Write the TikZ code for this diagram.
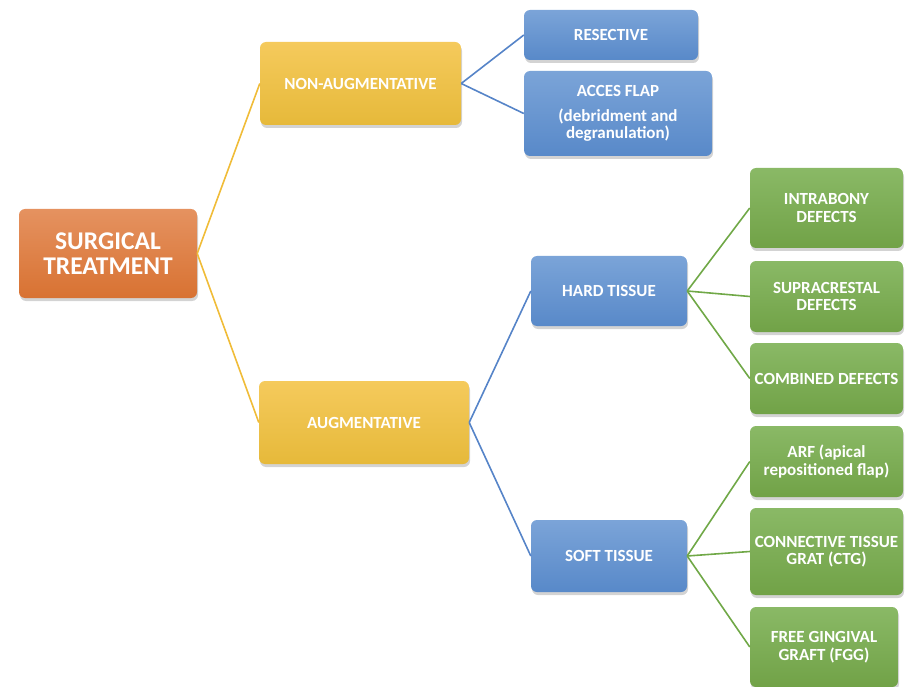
\documentclass[tikz,border=0pt]{standalone}
\usepackage{fontspec}
\setmainfont{Carlito}
\usetikzlibrary{shadows}

\definecolor{orangetop}{RGB}{229,146,96}
\definecolor{orangebot}{RGB}{216,114,50}
\definecolor{yellowtop}{RGB}{245,202,92}
\definecolor{yellowbot}{RGB}{230,185,58}
\definecolor{bluetop}{RGB}{123,164,216}
\definecolor{bluebot}{RGB}{88,137,201}
\definecolor{greentop}{RGB}{138,185,102}
\definecolor{greenbot}{RGB}{113,162,71}
\definecolor{yellowline}{RGB}{240,188,56}
\definecolor{blueline}{RGB}{86,132,200}
\definecolor{greenline}{RGB}{112,168,71}

\tikzset{
    box/.style={rounded corners=6pt, text=white, align=center, inner sep=2pt,
        font=\bfseries\fontsize{17}{17.5}\selectfont,
        drop shadow={opacity=0.35, shadow xshift=1pt, shadow yshift=-3pt}},
    orangebox/.style={box, top color=orangetop, bottom color=orangebot},
    yellowbox/.style={box, top color=yellowtop, bottom color=yellowbot},
    bluebox/.style={box, top color=bluetop, bottom color=bluebot},
    greenbox/.style={box, top color=greentop, bottom color=greenbot},
    yline/.style={yellowline, line width=1.6pt},
    bline/.style={blueline, line width=1.6pt},
    gline/.style={greenline, line width=1.6pt}
}

\begin{document}
\begin{tikzpicture}[x=1pt, y=-1pt]
    \useasboundingbox (0,0) rectangle (905,687);
% root and first level
    \node[orangebox, minimum width=178pt, minimum height=89pt,
          font=\bfseries\fontsize{25.5}{25.5}\selectfont] (surgical) at (108,253.5) {SURGICAL\\TREATMENT};
    \node[yellowbox, minimum width=201pt, minimum height=83pt] (nonaug) at (360.5,83.5) {NON-AUGMENTATIVE};
    \node[yellowbox, minimum width=210pt, minimum height=83pt] (aug) at (364,422.5) {AUGMENTATIVE};
% second level
    \node[bluebox, minimum width=174pt, minimum height=50pt] (resective) at (611,35) {RESECTIVE};
    \node[bluebox, minimum width=188pt, minimum height=85pt] (acces) at (618,113.5) {ACCES FLAP\\[7pt](debridment and\\degranulation)};
    \node[bluebox, minimum width=156pt, minimum height=70pt] (hard) at (609,291) {HARD TISSUE};
    \node[bluebox, minimum width=156pt, minimum height=72pt] (soft) at (609,556) {SOFT TISSUE};
% third level
    \node[greenbox, minimum width=153pt, minimum height=80pt] (intrabony) at (826.5,208) {INTRABONY\\DEFECTS};
    \node[greenbox, minimum width=153pt, minimum height=71pt] (supracrestal) at (826.5,296.5) {SUPRACRESTAL\\DEFECTS};
    \node[greenbox, minimum width=153pt, minimum height=71pt] (combined) at (826.5,378.5) {COMBINED DEFECTS};
    \node[greenbox, minimum width=153pt, minimum height=71pt] (arf) at (826.5,461.5) {ARF (apical\\repositioned flap)};
    \node[greenbox, minimum width=153pt, minimum height=87pt] (ctg) at (826.5,551.5) {CONNECTIVE TISSUE\\GRAT (CTG)};
    \node[greenbox, minimum width=148pt, minimum height=80pt] (fgg) at (824,647) {FREE GINGIVAL\\GRAFT (FGG)};
% connectors
    \draw[yline] (surgical.east) -- (nonaug.west);
    \draw[yline] (surgical.east) -- (aug.west);
    \draw[bline] (nonaug.east) -- (resective.west);
    \draw[bline] (nonaug.east) -- (acces.west);
    \draw[bline] (aug.east) -- (hard.west);
    \draw[bline] (aug.east) -- (soft.west);
    \draw[gline] (hard.east) -- (intrabony.west);
    \draw[gline] (hard.east) -- (supracrestal.west);
    \draw[gline] (hard.east) -- (combined.west);
    \draw[gline] (soft.east) -- (arf.west);
    \draw[gline] (soft.east) -- (ctg.west);
    \draw[gline] (soft.east) -- (fgg.west);
\end{tikzpicture}
\end{document}
